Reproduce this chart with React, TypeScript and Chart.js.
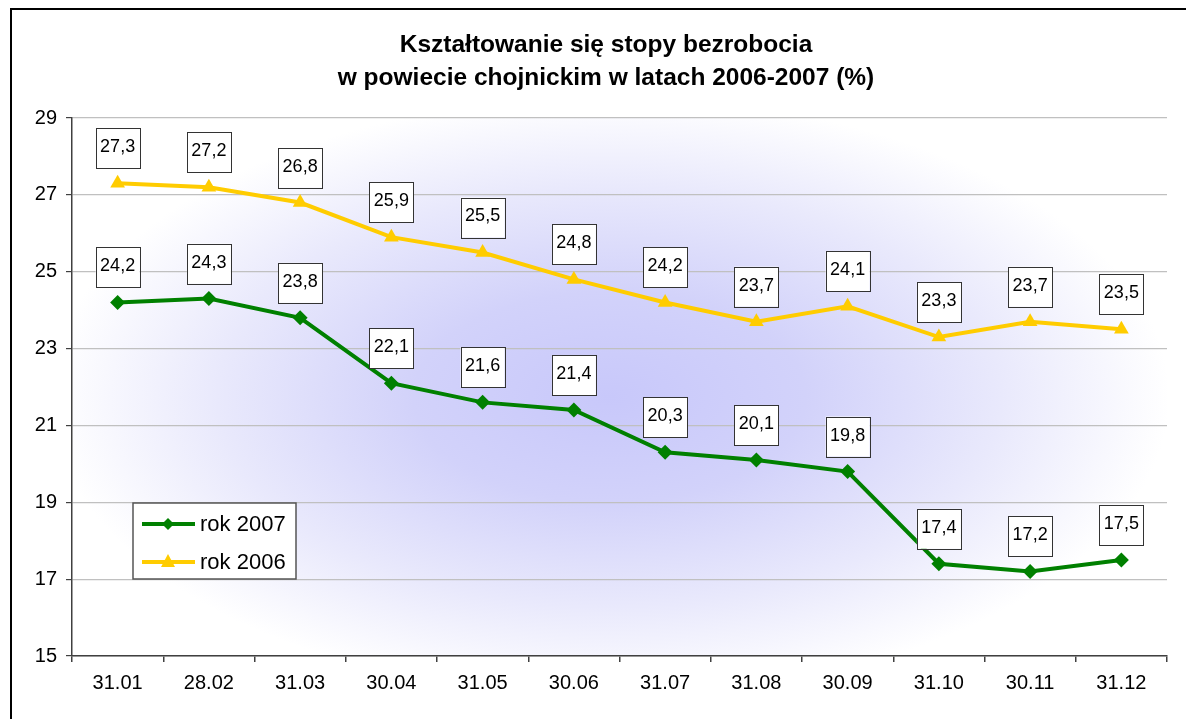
import React, { useEffect, useRef } from "react";
import { Chart, registerables } from "chart.js";

Chart.register(...registerables);

const categories = ["31.01", "28.02", "31.03", "30.04", "31.05", "30.06", "31.07", "31.08", "30.09", "31.10", "30.11", "31.12"];
const values2007 = [24.2, 24.3, 23.8, 22.1, 21.6, 21.4, 20.3, 20.1, 19.8, 17.4, 17.2, 17.5];
const values2006 = [27.3, 27.2, 26.8, 25.9, 25.5, 24.8, 24.2, 23.7, 24.1, 23.3, 23.7, 23.5];
const titleLines = ["Kształtowanie się stopy bezrobocia", "w powiecie chojnickim w latach 2006-2007 (%)"];
const seriesNames = ["rok 2007", "rok 2006"];
const GREEN = "#008000";
const YELLOW = "#FFCC00";

const fmt = (v: number) => v.toFixed(1).replace(".", ",");

const decorPlugin = {
  id: "decor",
  beforeDraw(chart: any) {
    const { ctx, chartArea } = chart;
    ctx.save();
    ctx.fillStyle = "#ffffff";
    ctx.fillRect(0, 0, chart.width, chart.height);
    // frame
    ctx.strokeStyle = "#000000";
    ctx.lineWidth = 2;
    ctx.beginPath();
    ctx.moveTo(11, chart.height + 2);
    ctx.lineTo(11, 9);
    ctx.lineTo(chart.width + 2, 9);
    ctx.stroke();
    // title
    ctx.fillStyle = "#000000";
    ctx.font = "bold 24.5px 'Liberation Sans', Arial, sans-serif";
    ctx.textAlign = "center";
    ctx.textBaseline = "middle";
    ctx.fillText(titleLines[0], 606, 45);
    ctx.fillText(titleLines[1], 606, 78);
    // background gradient in plot area
    const { left, top, right, bottom } = chartArea;
    ctx.beginPath();
    ctx.rect(left, top, right - left, bottom - top);
    ctx.clip();
    const cx = (left + right) / 2 - 10;
    const cy = (top + bottom) / 2 + 10;
    const rx = 560;
    const ry = 300;
    ctx.translate(cx, cy);
    ctx.scale(rx / ry, 1);
    const g = ctx.createRadialGradient(0, 0, 0, 0, 0, ry);
    g.addColorStop(0, "rgb(200,200,250)");
    g.addColorStop(0.35, "rgb(210,210,250)");
    g.addColorStop(0.7, "rgb(233,233,252)");
    g.addColorStop(1, "rgb(255,255,255)");
    ctx.fillStyle = g;
    ctx.fillRect(-ry * 3, -ry * 3, ry * 6, ry * 6);
    ctx.restore();
  },
  afterDatasetsDraw(chart: any) {
    const { ctx } = chart;
    ctx.save();
    chart.data.datasets.forEach((ds: any, i: number) => {
      const meta = chart.getDatasetMeta(i);
      meta.data.forEach((pt: any, j: number) => {
        const w = 44;
        const h = 40;
        const x = pt.x - w / 2;
        const y = pt.y - 15 - h;
        ctx.fillStyle = "#ffffff";
        ctx.fillRect(x, y, w, h);
        ctx.strokeStyle = "#333333";
        ctx.lineWidth = 1;
        ctx.strokeRect(Math.round(x) + 0.5, Math.round(y) + 0.5, w, h);
        ctx.fillStyle = "#000000";
        ctx.font = "18px 'Liberation Sans', Arial, sans-serif";
        ctx.textAlign = "center";
        ctx.textBaseline = "middle";
        ctx.fillText(fmt(ds.data[j]), pt.x, y + h / 2 - 1);
      });
    });
    ctx.restore();
  },
  afterDraw(chart: any) {
    const { ctx } = chart;
    ctx.save();
    // legend box
    const lx = 133, ly = 503, lw = 163, lh = 76;
    ctx.fillStyle = "#ffffff";
    ctx.fillRect(lx, ly, lw, lh);
    ctx.strokeStyle = "#555555";
    ctx.lineWidth = 1.5;
    ctx.strokeRect(lx, ly, lw, lh);
    const rows = [
      { y: ly + 21, color: GREEN, marker: "diamond", name: seriesNames[0] },
      { y: ly + 59, color: YELLOW, marker: "triangle", name: seriesNames[1] },
    ];
    rows.forEach((r) => {
      ctx.strokeStyle = r.color;
      ctx.lineWidth = 4;
      ctx.beginPath();
      ctx.moveTo(lx + 9, r.y);
      ctx.lineTo(lx + 62, r.y);
      ctx.stroke();
      ctx.fillStyle = r.color;
      const mx = lx + 35;
      ctx.beginPath();
      if (r.marker === "diamond") {
        ctx.moveTo(mx, r.y - 6);
        ctx.lineTo(mx + 6, r.y);
        ctx.lineTo(mx, r.y + 6);
        ctx.lineTo(mx - 6, r.y);
      } else {
        ctx.moveTo(mx, r.y - 8);
        ctx.lineTo(mx + 7, r.y + 5);
        ctx.lineTo(mx - 7, r.y + 5);
      }
      ctx.closePath();
      ctx.fill();
      ctx.fillStyle = "#000000";
      ctx.font = "22px 'Liberation Sans', Arial, sans-serif";
      ctx.textAlign = "left";
      ctx.textBaseline = "middle";
      ctx.fillText(r.name, lx + 67, r.y + 1);
    });
    ctx.restore();
  },
};

export default function App() {
  const ref = useRef<HTMLCanvasElement | null>(null);
  useEffect(() => {
    if (!ref.current) return;
    const chart = new Chart(ref.current, {
      type: "line",
      data: {
        labels: categories,
        datasets: [
          {
            label: seriesNames[0],
            data: values2007,
            borderColor: GREEN,
            backgroundColor: GREEN,
            borderWidth: 4,
            pointStyle: "rectRot",
            pointRadius: 7.5,
            pointBorderWidth: 0,
            tension: 0,
          },
          {
            label: seriesNames[1],
            data: values2006,
            borderColor: YELLOW,
            backgroundColor: YELLOW,
            borderWidth: 4,
            pointStyle: "triangle",
            pointRadius: 8.5,
            pointBorderWidth: 0,
            tension: 0,
          },
        ],
      },
      options: {
        responsive: false,
        animation: false,
        layout: { padding: { left: 0, top: 118, right: 19, bottom: 0 } },
        plugins: {
          legend: { display: false },
          title: { display: false },
          tooltip: { enabled: false },
        },
        scales: {
          x: {
            offset: true,
            afterFit: (s: any) => { s.height = 63; },
            grid: {
              offset: true,
              drawOnChartArea: false,
              drawTicks: true,
              tickLength: 6,
              tickColor: "#404040",
              lineWidth: 1.5,
            },
            border: { color: "#404040", width: 1.5 },
            ticks: {
              color: "#000000",
              padding: 9,
              font: { size: 20, family: "'Liberation Sans', Arial, sans-serif" },
              maxRotation: 0,
            },
          },
          y: {
            min: 15,
            max: 29,
            afterFit: (s: any) => { s.width = 72; },
            grid: {
              color: "#c0c0c0",
              lineWidth: 1.2,
              tickColor: "#404040",
              tickLength: 6,
            },
            border: { color: "#404040", width: 1.5 },
            ticks: {
              stepSize: 2,
              color: "#000000",
              padding: 9,
              font: { size: 20, family: "'Liberation Sans', Arial, sans-serif" },
            },
          },
        },
      },
      plugins: [decorPlugin],
    });
    return () => chart.destroy();
  }, []);
  return (
    <div style={{ position: "fixed", left: 0, top: 0, width: 1186, height: 719, background: "#fff" }}>
      <canvas ref={ref} width={1186} height={719} style={{ display: "block" }} />
    </div>
  );
}
